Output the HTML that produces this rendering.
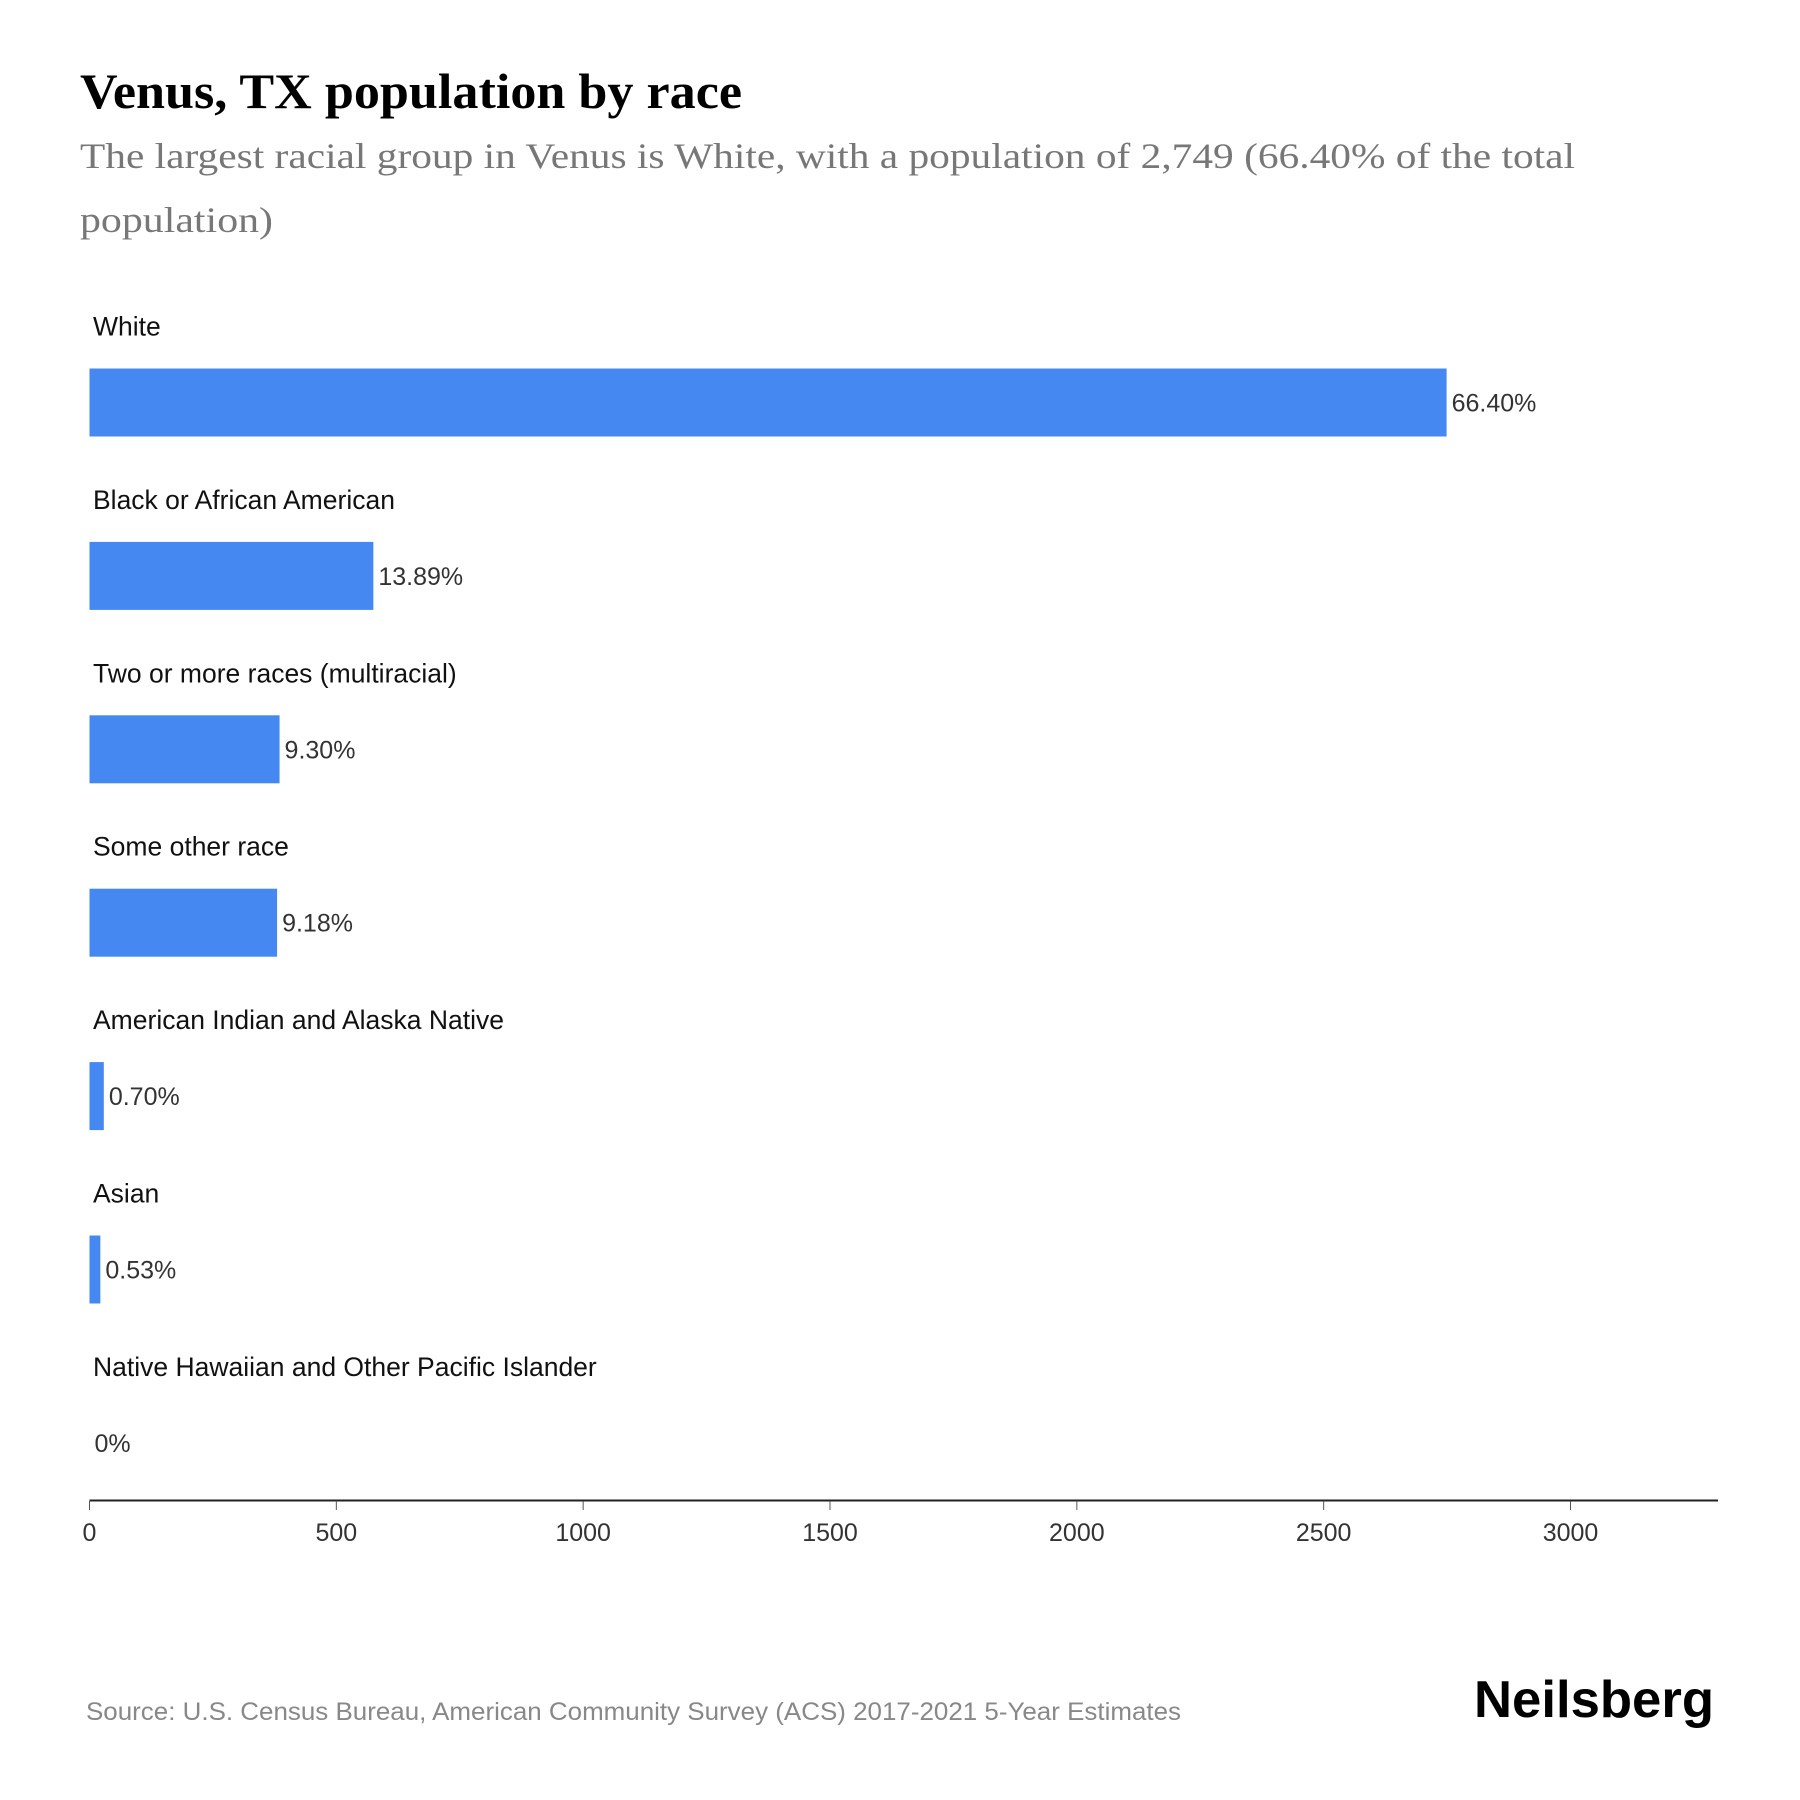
<!DOCTYPE html>
<html><head><meta charset="utf-8"><style>
html,body{margin:0;padding:0;background:#fff}
svg{display:block}
text{font-family:"Liberation Sans",sans-serif}
</style></head><body>
<svg id="chart" width="1800" height="1800" viewBox="0 0 1800 1800" xmlns="http://www.w3.org/2000/svg">
<text x="80" y="108" font-weight="bold" font-size="50" fill="#000" textLength="662" lengthAdjust="spacingAndGlyphs" style="font-family:'Liberation Serif',serif">Venus, TX population by race</text>
<text x="80" y="168" font-size="36" fill="#777" textLength="1495" lengthAdjust="spacingAndGlyphs" style="font-family:'Liberation Serif',serif">The largest racial group in Venus is White, with a population of 2,749 (66.40% of the total</text>
<text x="80" y="232" font-size="36" fill="#777" textLength="193" lengthAdjust="spacingAndGlyphs" style="font-family:'Liberation Serif',serif">population)</text>
<g id="bars"></g>
<g id="axis"></g>
<text x="86" y="1720" font-size="25" fill="#888" textLength="1095" lengthAdjust="spacingAndGlyphs">Source: U.S. Census Bureau, American Community Survey (ACS) 2017-2021 5-Year Estimates</text>
<text x="1714" y="1717" text-anchor="end" font-size="52" font-weight="bold" fill="#000" textLength="240" lengthAdjust="spacingAndGlyphs">Neilsberg</text>
</svg>
<script>
const categories = ["White","Black or African American","Two or more races (multiracial)","Some other race","American Indian and Alaska Native","Asian","Native Hawaiian and Other Pacific Islander"];
const populations = [2749, 575, 385, 380, 29, 22, 0];
const percentLabels = ["66.40%","13.89%","9.30%","9.18%","0.70%","0.53%","0%"];
const tickValues = [0, 500, 1000, 1500, 2000, 2500, 3000];

const NS = "http://www.w3.org/2000/svg";
const x0 = 89.5, pxPerUnit = (1570.5 - 89.5) / 3000;
const xScale = v => x0 + v * pxPerUnit;
const firstBarTop = 368.5, step = 173.4, barH = 68;
const yScale = i => firstBarTop + i * step;

function mk(tag, attrs, parent) {
  const el = document.createElementNS(NS, tag);
  for (const k in attrs) el.setAttribute(k, attrs[k]);
  parent.appendChild(el);
  return el;
}
const bars = document.getElementById('bars');
categories.forEach((c, i) => {
  const top = yScale(i);
  const lab = mk('text', {x: 93, y: top - 33, 'font-size': 26.5, fill: '#111'}, bars);
  
  
  lab.textContent = c;
  const w = Math.max(xScale(populations[i]) - x0, 0);
  const r = mk('rect', {x: x0, y: top, width: w, height: barH, fill: '#4688F2'}, bars);
  
  
  const v = mk('text', {x: x0 + w + 5, y: top + barH / 2 + 9, 'font-size': 25, fill: '#333'}, bars);
  
  
  v.textContent = percentLabels[i];
});
const axis = document.getElementById('axis');
const line = mk('line', {x1: x0, x2: 1718, y1: 1500.5, y2: 1500.5, stroke: '#222', 'stroke-width': 2}, axis);


tickValues.forEach(t => {
  const tk = mk('line', {x1: xScale(t), x2: xScale(t), y1: 1501, y2: 1510, stroke: '#555', 'stroke-width': 1}, axis);
  
  
  const tl = mk('text', {x: xScale(t), y: 1541, 'font-size': 25, fill: '#333', 'text-anchor': 'middle'}, axis);
  
  
  tl.textContent = t;
});
</script>
</body></html>
